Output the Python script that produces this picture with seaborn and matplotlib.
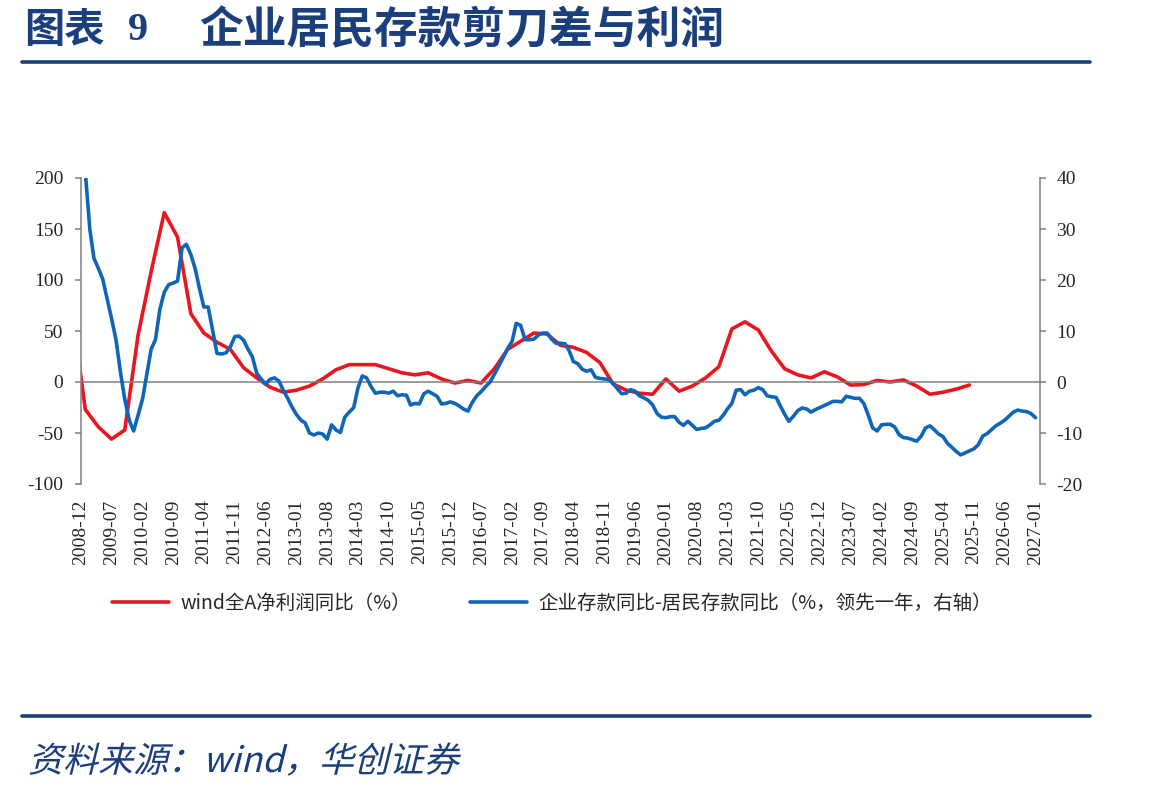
import pandas as pd
import seaborn as sns
import matplotlib.pyplot as plt
import matplotlib.dates as mdates
from matplotlib.lines import Line2D
from matplotlib.patches import PathPatch
from matplotlib.textpath import TextPath
from matplotlib.font_manager import FontProperties
from matplotlib.transforms import Affine2D

# %% Data
# wind全A净利润同比 (%), quarterly, 2008-09 .. 2025-09
profit_dates = pd.date_range('2008-09-30', '2025-09-30', freq='QE')
profit_yoy = [
    70, -27,
    -44, -56, -47, 46,
    108, 166, 142, 67,
    48, 39, 32, 14,
    4, -5, -10, -8,
    -4, 3, 12, 17,
    17, 17, 13, 9,
    7, 9, 3, -1,
    1.5, -1, 13, 32,
    40, 48, 47, 36,
    34, 29, 19, -2,
    -8, -11, -12, 3,
    -9, -4, 4, 15,
    52, 59, 51, 30,
    13, 7, 4, 10,
    5, -3, -2.5, 1.5,
    0, 2, -4, -12,
    -10, -7, -3,
]

# 企业存款同比-居民存款同比 (%, 领先一年), monthly, 2008-12 .. 2026-12
spread_dates = pd.date_range('2008-12-31', '2026-12-31', freq='ME')
deposit_spread = [
    41,
    30, 24.3, 22.3, 20.2, 16.3, 12.5, 8.3, 1.9, -3.4, -7.5, -9.6, -6.5,
    -3.3, 1.3, 6.4, 8.3, 14.3, 17.6, 19.1, 19.4, 19.8, 26.3, 27, 25,
    22.1, 18.4, 14.7, 14.7, 10.1, 5.6, 5.5, 5.7, 6.9, 8.9, 9, 8.2,
    6.4, 5, 1.7, 0.6, -0.4, 0.5, 0.8, 0.2, -1.6, -3.2, -4.9, -6.4,
    -7.5, -8, -10, -10.4, -10, -10.2, -11.2, -8.4, -9.4, -9.9, -6.9, -5.9,
    -5, -1.3, 1.2, 0.8, -0.9, -2.2, -2, -2, -2.2, -1.8, -2.7, -2.5,
    -2.6, -4.5, -4.2, -4.3, -2.3, -1.8, -2.3, -2.8, -4.3, -4.2, -3.9, -4.2,
    -4.7, -5.3, -5.7, -4, -2.7, -1.9, -0.9, 0, 1.5, 3.2, 4.8, 6.6,
    8, 11.5, 11.1, 8.3, 8.3, 8.4, 9.2, 9.6, 9.6, 8.4, 7.6, 7.6,
    7.5, 6.2, 4, 3.6, 2.5, 2.1, 2.4, 0.9, 0.7, 0.6, 0.5, -0.3,
    -1.4, -2.3, -2.2, -1.5, -1.8, -2.7, -3.1, -3.6, -4.5, -6.2, -6.9, -7,
    -6.8, -6.8, -7.9, -8.5, -7.7, -8.5, -9.3, -9.1, -9, -8.4, -7.7, -7.5,
    -6.5, -5.3, -4.2, -1.6, -1.5, -2.5, -1.8, -1.6, -1.1, -1.5, -2.7, -2.9,
    -3, -4.6, -6.3, -7.7, -6.7, -5.6, -5.1, -5.3, -5.9, -5.4, -5, -4.6,
    -4.2, -3.8, -3.8, -3.9, -2.8, -3, -3.2, -3.2, -4.2, -6.5, -9, -9.6,
    -8.4, -8.3, -8.3, -8.8, -10.3, -10.9, -11, -11.3, -11.6, -10.6, -9, -8.6,
    -9.4, -10.2, -10.7, -12, -12.8, -13.6, -14.3, -13.9, -13.5, -13.1, -12.3, -10.6,
    -10.1, -9.4, -8.6, -8.1, -7.5, -6.7, -5.9, -5.5, -5.7, -5.8, -6.2, -7,
]

tick_dates = pd.date_range('2008-12-01', periods=32, freq='7MS')
left_ticks = [-100, -50, 0, 50, 100, 150, 200]
right_ticks = [-20, -10, 0, 10, 20, 30, 40]

label_profit = 'wind全A净利润同比（%）'
label_spread = '企业存款同比-居民存款同比（%，领先一年，右轴）'

df_profit = pd.DataFrame({'date': profit_dates, 'value': profit_yoy})
df_spread = pd.DataFrame({'date': spread_dates, 'value': deposit_spread})

# %% Plot
sns.set_style('white')
plt.rcParams['font.family'] = ['Noto Sans CJK SC', 'DejaVu Sans']
plt.rcParams['axes.unicode_minus'] = False

navy = '#1b3f7c'
grey = '#7f7f7f'
red = '#e8161e'
blue = '#0f66b8'

W, H = 1149, 792
fig = plt.figure(figsize=(W / 100, H / 100), dpi=100)
ax = fig.add_axes([81 / W, 1 - 484 / H, 959 / W, 306 / H])
ax2 = ax.twinx()

sns.lineplot(data=df_profit, x='date', y='value', ax=ax, color=red, lw=2.6, label=label_profit)
sns.lineplot(data=df_spread, x='date', y='value', ax=ax2, color=blue, lw=2.6, label=label_spread)

ax.set_xlim(pd.Timestamp('2008-12-01'), pd.Timestamp('2027-01-31'))
ax.set_ylim(-100, 200)
ax2.set_ylim(-20, 40)
ax.set_yticks(left_ticks)
ax2.set_yticks(right_ticks)
ax.set_xlabel('')
ax.set_ylabel('')
ax2.set_ylabel('')

# x axis line sits at zero, date labels at the bottom
ax.spines['bottom'].set_position(('data', 0))
ax.set_xticks(tick_dates)
ax.tick_params(axis='x', labelbottom=False, direction='out', length=4, width=1.1, color=grey)
sec = ax.secondary_xaxis('bottom')
sec.set_xticks(tick_dates)
sec.xaxis.set_major_formatter(mdates.DateFormatter('%Y-%m'))
sec.tick_params(axis='x', length=0, pad=11, labelrotation=90, labelsize=14,
                labelfontfamily='Liberation Serif')
sec.spines['bottom'].set_visible(False)

for a in (ax, ax2):
    a.spines['top'].set_visible(False)
    for s in a.spines.values():
        s.set_color(grey)
        s.set_linewidth(1.1)
ax2.spines['bottom'].set_visible(False)
ax.spines['right'].set_visible(False)
ax2.spines['left'].set_visible(False)

ax.tick_params(axis='y', direction='out', length=4.3, width=1.1, color=grey,
               labelsize=14, pad=8.5, labelfontfamily='Liberation Serif')
ax2.tick_params(axis='y', direction='out', length=4.3, width=1.1, color=grey,
                labelsize=14, pad=7.5, labelfontfamily='Liberation Serif')

handles = [ax.get_lines()[0], ax2.get_lines()[0]]
ax.get_legend().remove()
ax2.get_legend().remove()
fig.legend(handles, [label_profit, label_spread], loc='center', ncol=2,
           bbox_to_anchor=(552 / W, 1 - 603 / H), frameon=False,
           fontsize=14, handlelength=2.9, handletextpad=0.6, columnspacing=3.05)

# title, rules and source
fig.text(24 / W, 1 - 30 / H, '图表', color=navy, fontsize=29, fontweight='bold', va='center')
fig.text(128 / W, 1 - 30 / H, '9', color=navy, fontsize=29, fontweight='bold', va='center',
         family='Liberation Serif')
fig.text(199 / W, 1 - 30 / H, '企业居民存款剪刀差与利润', color=navy, fontsize=31.5,
         fontweight='bold', va='center')
fig.add_artist(Line2D([22 / W, 1090 / W], [1 - 62 / H] * 2, lw=2.6, color=navy))
fig.add_artist(Line2D([22 / W, 1090 / W], [1 - 716 / H] * 2, lw=2.6, color=navy))

# source line, slanted like the original italic
src = TextPath((0, 0), '资料来源：wind，华创证券', size=35,
               prop=FontProperties(family='Noto Sans CJK SC'))
src_tf = Affine2D().skew_deg(14, 0).translate(28, H - 772).scale(1 / W, 1 / H) + fig.transFigure
fig.add_artist(PathPatch(src, transform=src_tf, color=navy, lw=0))

fig.savefig('out.png', dpi=100)
